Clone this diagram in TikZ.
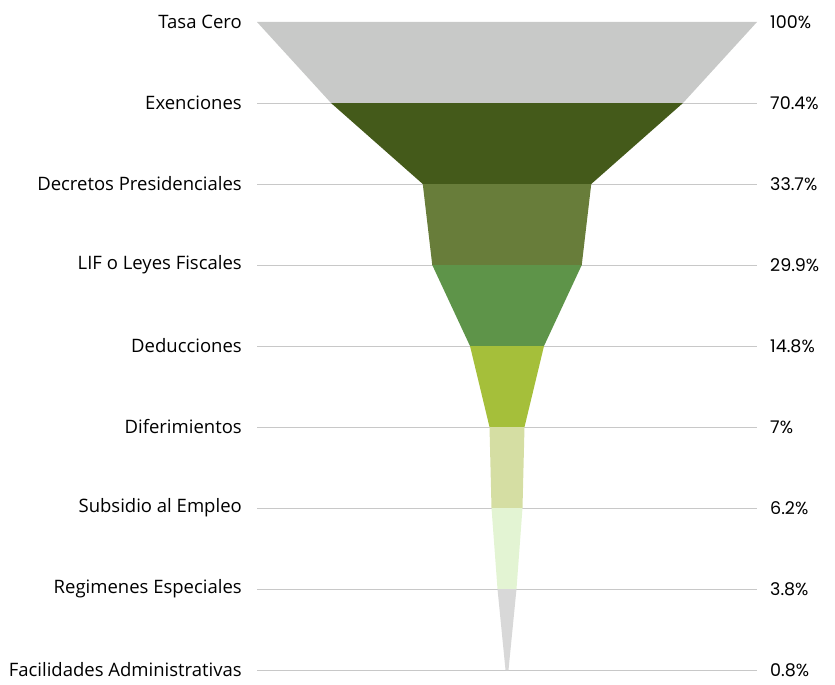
\documentclass[tikz,border=0pt]{standalone}
\usepackage{fontspec}
\setmainfont{Open Sans}
\newfontfamily\pctfont{Poppins}
\usetikzlibrary{positioning}

\definecolor{segA}{HTML}{C8C9C8}
\definecolor{segB}{HTML}{445A1A}
\definecolor{segC}{HTML}{687D3A}
\definecolor{segD}{HTML}{5E9449}
\definecolor{segE}{HTML}{A5BF3A}
\definecolor{segF}{HTML}{D5DEA3}
\definecolor{segG}{HTML}{E3F4D3}
\definecolor{segH}{HTML}{D8D8D8}
\definecolor{gridgray}{HTML}{C8C8C8}

\tikzset{
  stagelabel/.style={anchor=east, inner sep=0pt, font=\fontsize{18.5}{20}\selectfont},
  pctlabel/.style={anchor=west, inner sep=0pt, font=\pctfont\fontsize{17.5}{20}\selectfont},
  rowline/.style={draw=gridgray, line width=0.8pt}
}

\begin{document}
\begin{tikzpicture}[x=1pt, y=-1pt]
  \useasboundingbox (0,0) rectangle (835,685);

  % grid lines
  \foreach \i in {1,...,8}
    \draw[rowline] (257, 22+81*\i) -- (757, 22+81*\i);

  % funnel segments: top half-width / bottom half-width / colour
  \foreach \i/\wt/\wb/\col in {0/250/176/segA, 1/176/84.25/segB, 2/84.25/74.75/segC,
      3/74.75/37/segD, 4/37/17.5/segE, 5/17.5/15.5/segF, 6/15.5/9.5/segG, 7/9.5/1.5/segH}
    \fill[\col] (507-\wt, 22+81*\i) -- (507+\wt, 22+81*\i)
      -- (507+\wb, 103+81*\i) -- (507-\wb, 103+81*\i) -- cycle;

  % stage names
  \node[stagelabel] (tasa) at (242, 22) {Tasa Cero};
  \node[stagelabel] (exen) at (242, 103) {Exenciones};
  \node[stagelabel] (decr) at (242, 184) {Decretos Presidenciales};
  \node[stagelabel] (lif) at (242, 265) {LIF o Leyes Fiscales};
  \node[stagelabel] (dedu) at (242, 346) {Deducciones};
  \node[stagelabel] (dife) at (242, 427) {Diferimientos};
  \node[stagelabel] (subs) at (242, 508) {Subsidio al Empleo};
  \node[stagelabel] (regi) at (242, 589) {Regimenes Especiales};
  \node[stagelabel] (faci) at (242, 670) {Facilidades Administrativas};

  % percentages
  \node[pctlabel] (ptasa) at (770, 22) {100\%};
  \node[pctlabel] (pexen) at (770, 103) {70.4\%};
  \node[pctlabel] (pdecr) at (770, 184) {33.7\%};
  \node[pctlabel] (plif) at (770, 265) {29.9\%};
  \node[pctlabel] (pdedu) at (770, 346) {14.8\%};
  \node[pctlabel] (pdife) at (770, 427) {7\%};
  \node[pctlabel] (psubs) at (770, 508) {6.2\%};
  \node[pctlabel] (pregi) at (770, 589) {3.8\%};
  \node[pctlabel] (pfaci) at (770, 670) {0.8\%};
\end{tikzpicture}
\end{document}
